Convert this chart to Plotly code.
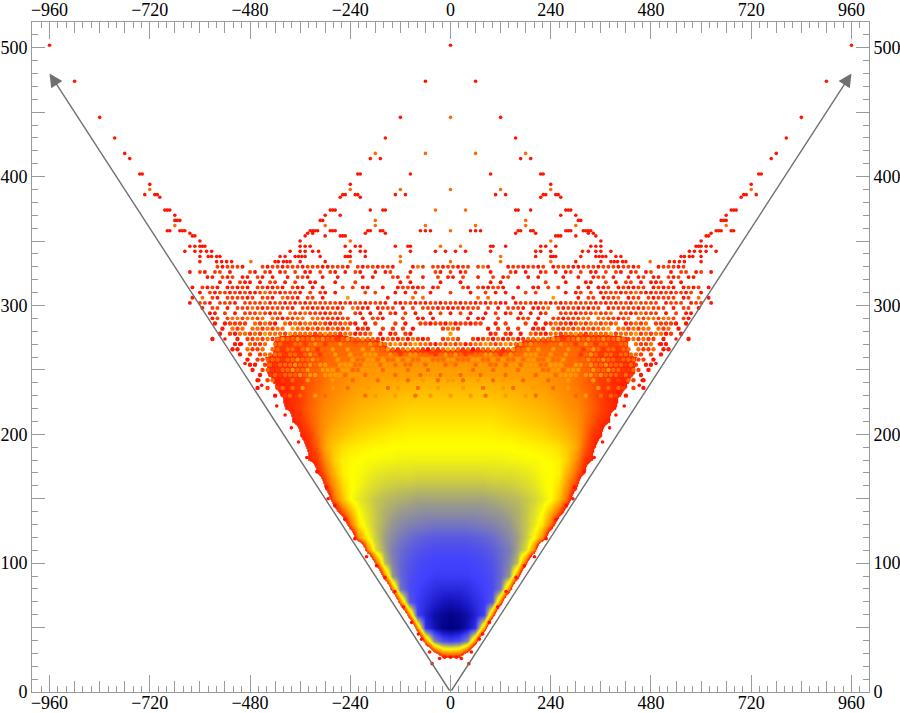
import plotly.graph_objects as go

# density levels, one list per row, columns at |x| = 0, 20, 40, ...; negative = beyond the cloud's edge
GRID_STEP = 20
OUTSIDE = -60
LEVELS = {
 10: [-60],
 20: [-47,-47,-60],
 30: [20,16,-10,-60],
 40: [85,82,70,20,-60],
 50: [100,99,95,88,25,-60],
 60: [99,98,96,91,85,20,-60],
 70: [95,94,92,89,86,80,20,-60],
 80: [90,90,89,87,85,83,74,20,-60],
 90: [86,86,86,85,84,82,77,66,20,-60],
 100: [85,85,85,84,83,81,77,70,58,8,-60],
 110: [83,83,83,82,81,79,76,72,63,52,18,-60],
 120: [80,80,80,79,78,76,73,69,64,56,44,22,-30,-60],
 130: [74,74,74,73,72,71,69,66,62,57,50,40,15,-20,-60],
 140: [68,68,68,68,67,66,65,63,61,57,52,45,30,12,-12,-60],
 150: [63,63,63,63,63,62,61,60,59,57,54,50,45,33,15,-20,-60],
 160: [58,58,58,58,58,57,57,56,55,53,51,47,44,38,22,6,-30,-60],
 170: [53,53,53,53,53,52,52,52,51,50,48,46,45,42,30,15,2,-30,-60],
 180: [48,48,48,48,48,48,48,47,47,46,46,45,44,42,36,22,8,0.5,-40,-60],
 190: [45,45,45,45,45,45,45,45,44,44,43,42,41,39,35,28,14,4,-8,-60],
 200: [43,43,43,43,43,43,42,42,41,40,39,38,36,34,31,26,17,7,1,-20,-60],
 210: [40,40,40,40,40,40,39,38,37,36,35,34,32,30,27,24,18,12,5,0.5,-30,-60],
 220: [37,37,37,37,37,37,36,35,34,33,32,31,29,27,24,22,18,14,9,4,-1,-60],
 230: [34,34,34,34,34,33,33,32,31,30,29,28,26,24,22,20,17,13,8,4,1,-2,-60],
 240: [30,30,30,30,30,29,29,28,28,27,26,25,24,22,20,18,15,12,8,5,2,1,-3,-60],
 250: [26,26,26,26,25,25,25,24,24,24,23,23,22,21,19,17,14,11,7,4,3,2,1,-30,-60],
 260: [18,19,20,20,20,21,21,21,21,20,20,20,19,18,16,14,11,8,5,4,3,2,2,-5,-60],
 270: [-15,-15,-15,-15,-15,-15,-15,-15,2,10,14,14,14,14,14,14,13,12,11,10,9,8,-30,-60],
 280: [-20,-20,-20,-20,-20,-20,-20,-20,-20,-20,-20,-20,-10,-6,-5,-4,-4,-4,-4,-4,-5,-6,-30,-60],
}
GRID_MAX_X = 520

# sparse upper points: y -> |x|
SPARSE_RED = {
 502:[0,960], 474:[60,900], 446:[120,840], 430:[156,804], 418:[780],
 414:[168,192,768], 402:[96,216,222,738,744], 394:[240,720],
 386:[132,108,222,228,252,258,702,708,732], 384:[216,264,696],
 374:[156,162,192,276,282,288,672,678,684], 370:[264,300,660],
 366:[306,312,648,654,660], 358:[48,60,72,162,168,192,198,276,282,288,318,324,330,336,672,678,636,642,648],
 356:[156,204,330,342,624], 354:[252,258,264,300,348,612,618], 350:[360,600],
 346:[96,102,132,216,228,252,336,348,360,588,594,600,612,624],
 342:[12,36,96,204,216,240,316,330,348,360,384,572,584,598,612,636],
 338:[204,240,246,252,312,348,356,364,372,396,408,552,560,572,580,600],
 334:[300,360,384,392,400,412,420,524,536,548,560,600],
}
SPARSE_ORANGE = {
 446:[0], 418:[60,180], 390:[0,120,240,720], 374:[36], 366:[180], 362:[60,180,300,660],
 358:[0], 346:[24], 338:[120], 334:[0,120,240,478], 350:[240],
}
# edge speckle along the V: (|x|, y)
EDGE_X = [0,14,26,44,50,69,77,93,113,133,157,177,201,229,253,277,293,297,320,344,364,381,396,416,452,459,492,500,540]
EDGE_Y = [27,27,26,22,31,41,45,54,66,78,89,98,105,119,134,145,150,159,171,182,194,205,215,222,238,242,255,270,274]

# dense rows: characters are |x| = 0, 12, 24, ...; r/e/o/g red to gold
DENSE_STEP = 12
DENSE = {
 330:"eree.eor...reereere.reeerreeereeereere...reeere",
 326:"e.re....r...er.r..re.r.re.e.rr.e.er.re.re...r.ee.re.r",
 322:"r.e..r..e.re...r.r....r..r..ree.r..r.re.rr.ere.rr",
 318:"..r.....r.r........e...r...rr..e.r.ee.r.rre.r.r",
 314:"..er.erreer..r..rr.e.e...r.r.rre.rerree.rerer.rere.r",
 310:"e...r..e.r.r...e.e.....r.re.e.reeereeoerrerereere.r",
 306:".....o.o....r.......g....r.ee.reeo.ree.ereeee.re.o.r",
 302:"eereerereerr.reeereerereeeeeererereeroeeee.reee.ree.r",
 298:"rereee.e.r.eeer.rreo.ereereree.reeeeereoeee.r.ee.r",
 294:"r.e.r..r.e.re.r.r.re..eeereeeoeeo.eereoeee.r.e.rr",
 290:"...r.rr..e...ree.r..eereeeoo.ooeereo.oeooeooe.er",
 286:"oreeree..r.e...e.r.reoeereoeooeoeo.reoeo.eeeer.r",
 282:"oe.....r.e.e.e..rer.oeeoeoeoeoog.ooeoeoo.oeo.r",
 278:"g.......re.er.r.oeerooeoogoeoooogeooogeoeoore.r",
 274:"oe..ereororeoreoogoogoeoogogoogoogoeoeoee.r....r",
 270:"oeoreoogoeogoogogoo.oogooeogoeooe.oo.oeeo.rr",
 266:"goeoreoogoeogoogogoogoogooeogoeooeoo.oeeo.rr",
 262:"ogoe.ooggoeogoogggoogoogooeogoeooeooooe.e.r",
 258:"goooggoogogoogoggoogoogoo.ogoogooeoooee.r",
 254:".ogggoggoogoggogggoogggooggogoogoooeoe.rr",
 250:"g.ggogggoggggoggggooggogggoogoogooeeoe.r",
 246:"ggogggoggggogggggogggoggggoggogoooeoe.r",
 242:"g.o..g..o.g...o..g.o...g..o.g..o.e.oe.r",
 236:"..g...o...g.o...g...o..g..o..g.o.oe.e.r",
 230:"g...g..o...g...g.o...g...o.g..o.oe.r",
}
COLORS = {"r":"#ff1400", "e":"#ff3a00", "o":"#ff6a00", "g":"#ff9a00"}

X_MAJOR = [-960,-720,-480,-240,0,240,480,720,960]
Y_MAJOR = [0,100,200,300,400,500]
X_RANGE = [-1002, 1002]
Y_RANGE = [0, 520]
ARROW_TIP = (960, 480)

half = list(range(0, GRID_MAX_X + GRID_STEP, GRID_STEP))
xs = [-v for v in half[:0:-1]] + half
ys = sorted(LEVELS)
z = []
for y in ys:
    r = LEVELS[y] + [OUTSIDE] * (len(half) - len(LEVELS[y]))
    z.append(r[:0:-1] + r)

ZMIN, ZMAX = -100, 100
stops = [(-100,"#ffffff"),(-0.2,"#ffffff"),(0,"#ff1e00"),(8,"#ff3c00"),(20,"#ff8200"),(35,"#ffc800"),
         (45,"#ffff00"),(55,"#d2d23c"),(65,"#9a9a8c"),(75,"#7070c8"),(85,"#4141ff"),(93,"#1a1ac8"),(100,"#000082")]
scale = [[(v - ZMIN) / (ZMAX - ZMIN), c] for v, c in stops]

fig = go.Figure()
fig.add_trace(go.Heatmap(x=xs, y=ys, z=z, zmin=ZMIN, zmax=ZMAX, zsmooth="best", colorscale=scale,
                         showscale=False, hoverinfo="skip"))

def points(rows_iter):
    px, py, pc = [], [], []
    for x, y, c in rows_iter:
        px.append(x); py.append(y); pc.append(c)
        if x:
            px.append(-x); py.append(y); pc.append(c)
    return px, py, pc

low, high = [], []
for y, row in DENSE.items():
    off = DENSE_STEP / 2 if (y - 246) % 8 else 0
    target = low if y < 290 else high
    for i, ch in enumerate(row):
        if ch in COLORS:
            target.append((i * DENSE_STEP + off, y, COLORS[ch]))
sparse = []
for y, vals in SPARSE_RED.items():
    sparse += [(v, y, COLORS["r"]) for v in vals]
for y, vals in SPARSE_ORANGE.items():
    sparse += [(v, y, COLORS["o"]) for v in vals]
sparse += [(v, y, COLORS["r"]) for v, y in zip(EDGE_X, EDGE_Y)]

for pts, size in ((low, 4.4), (high, 3.9), (sparse, 3.6)):
    px, py, pc = points(pts)
    fig.add_trace(go.Scatter(x=px, y=py, mode="markers", hoverinfo="skip", showlegend=False,
                             marker=dict(size=size, color=pc, line=dict(width=0))))

fig.add_trace(go.Scatter(x=[None], y=[None], xaxis="x2", yaxis="y2", showlegend=False))
fig.add_trace(go.Scatter(x=[None], y=[None], xaxis="x3", yaxis="y3", showlegend=False))

FONT = dict(family="Liberation Serif", size=18, color="#000000")
TICK = "#9a9a9a"
base = dict(showgrid=False, zeroline=False, ticks="inside", tickcolor=TICK, tickwidth=1,
            linecolor="#9a9a9a", linewidth=1, tickfont=FONT, automargin=False)
fig.update_layout(
    width=900, height=713, autosize=False, paper_bgcolor="white", plot_bgcolor="white",
    margin=dict(l=32, r=31, t=22, b=21), showlegend=False,
    xaxis=dict(base, range=X_RANGE, tickvals=X_MAJOR, ticklen=17, mirror="ticks", side="bottom", ticklabelstandoff=-6,
               minor=dict(dtick=20, ticks="inside", ticklen=6, tickcolor=TICK, tickwidth=1)),
    yaxis=dict(base, range=Y_RANGE, tickvals=Y_MAJOR, ticklen=13, mirror="ticks", side="left",
               minor=dict(dtick=10, ticks="inside", ticklen=6, tickcolor=TICK, tickwidth=1)),
    xaxis2=dict(base, range=X_RANGE, tickvals=X_MAJOR, ticklen=0, ticks="", overlaying="x", side="top", anchor="y", ticklabelstandoff=-2),
    yaxis2=dict(base, range=Y_RANGE, tickvals=Y_MAJOR, ticklen=0, ticks="", overlaying="y", side="right", anchor="x"),
    xaxis3=dict(base, range=X_RANGE, dtick=60, tick0=0, ticklen=11, mirror="ticks", showticklabels=False,
                overlaying="x", anchor="y"),
    yaxis3=dict(base, range=Y_RANGE, dtick=50, tick0=0, ticklen=13, mirror="ticks", showticklabels=False,
                overlaying="y", anchor="x"),
    annotations=[dict(x=s * ARROW_TIP[0], y=ARROW_TIP[1], ax=0, ay=0, axref="x", ayref="y", xref="x", yref="y",
                      text="", showarrow=True, arrowhead=2, arrowsize=1.9, arrowwidth=1.4, arrowcolor="#707070")
                 for s in (-1, 1)],
)
fig.write_html("out.html", config=dict(displayModeBar=False),
               post_script="document.body.style.margin='0';document.documentElement.style.overflow='hidden';")
